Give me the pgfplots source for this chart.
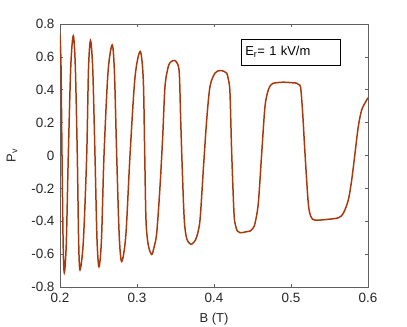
\documentclass[border=0pt]{standalone}
\usepackage{fontspec}
\setmainfont{Liberation Sans}
\usepackage{pgfplots}
\pgfplotsset{compat=1.18}
\definecolor{curve}{RGB}{166,58,12}
\definecolor{axgray}{RGB}{38,38,38}

\begin{document}
\begin{tikzpicture}
% keep the page the size of the reference (407x327)
\path[use as bounding box] (-60bp,-40bp) rectangle (347bp,287bp);
\begin{axis}[
    at={(0,0)}, anchor=south west,
    scale only axis,
    width=308bp, height=263bp,
    xmin=0.2, xmax=0.6, ymin=-0.8, ymax=0.8,
    xtick={0.2,0.3,0.4,0.5,0.6},
    xticklabels={0.2,0.3,0.4,0.5,0.6},
    ytick={-0.8,-0.6,-0.4,-0.2,0,0.2,0.4,0.6,0.8},
    yticklabels={-0.8,-0.6,-0.4,-0.2,0,0.2,0.4,0.6,0.8},
    tick align=inside, tickpos=both,
    major tick length=3bp,
    axis line style={gray!75!black, line width=0.6pt},
    tick style={gray!75!black, line width=0.6pt},
    ticklabel style={font=\fontsize{13.5}{15}\selectfont, text=axgray},
    xticklabel style={yshift=-3bp},
    yticklabel style={xshift=-2bp},
    label style={font=\fontsize{13}{15}\selectfont, text=axgray},
    xlabel={B (T)},
    ylabel={P\textsubscript{v}},
    xlabel style={at={(axis description cs:0.5,-0.122)}, anchor=center},
    ylabel style={at={(axis description cs:-0.156,0.5)}, anchor=center},
]
\addplot[curve, line width=1.5pt, smooth, tension=0.5] coordinates {
(0.20000,0.735) (0.20130,0.55) (0.20260,0) (0.20409,-0.535) (0.20558,-0.713)
(0.20818,-0.535) (0.21078,0) (0.21403,0.545) (0.21727,0.728) (0.21987,0.546)
(0.22247,0) (0.22422,-0.522) (0.22597,-0.696) (0.23032,-0.522) (0.23468,0)
(0.23701,0.525) (0.23961,0.700) (0.24253,0.525) (0.24545,0) (0.24805,-0.508)
(0.25065,-0.677) (0.25390,-0.508) (0.25714,0) (0.26234,0.505) (0.26779,0.673)
(0.27071,0.505) (0.27364,0) (0.27688,-0.484) (0.28013,-0.645) (0.28552,-0.484)
(0.29091,0) (0.29740,0.475) (0.30420,0.633) (0.30818,0.460) (0.31000,0.015)
(0.31169,-0.393) (0.31468,-0.546) (0.31909,-0.602) (0.32182,-0.564) (0.32558,-0.473)
(0.32987,-0.190) (0.33338,0.115) (0.33636,0.420) (0.34065,0.541) (0.34416,0.570)
(0.34844,0.578) (0.35195,0.564) (0.35494,0.501) (0.35675,0.216) (0.35883,-0.088)
(0.36143,-0.393) (0.36455,-0.505) (0.36974,-0.540) (0.37403,-0.527) (0.37753,-0.495)
(0.38182,-0.393) (0.38610,-0.088) (0.39052,0.216) (0.39481,0.420) (0.40130,0.501)
(0.40779,0.517) (0.41299,0.512) (0.41649,0.501) (0.41883,0.460) (0.42078,0.379)
(0.42299,0.015) (0.42597,-0.351) (0.42792,-0.424) (0.43026,-0.459) (0.43377,-0.470)
(0.43805,-0.468) (0.44286,-0.463) (0.44675,-0.460) (0.45065,-0.442) (0.45325,-0.413)
(0.45753,-0.291) (0.46195,0.013) (0.46623,0.298) (0.47052,0.399) (0.47403,0.430)
(0.47701,0.440) (0.49000,0.446) (0.50000,0.443) (0.50740,0.440) (0.51039,0.430)
(0.51260,0.410) (0.51519,0.257) (0.51818,0.013) (0.52247,-0.291) (0.52597,-0.373)
(0.53117,-0.393) (0.54636,-0.389) (0.56143,-0.379) (0.56792,-0.352) (0.57442,-0.271)
(0.57883,-0.149) (0.58312,0.013) (0.58740,0.176) (0.59182,0.277) (0.59831,0.338)
(0.60000,0.351)
};
\node[draw=black, line width=0.6pt, fill=white, anchor=north west,
      minimum width=99bp, minimum height=26bp, inner sep=0pt,
      text width=91bp, align=left, font=\fontsize{13}{15}\selectfont]
  at (axis cs:0.4351,0.710) {E\textsubscript{r}= 1 kV/m};
\end{axis}
\end{tikzpicture}
\end{document}
